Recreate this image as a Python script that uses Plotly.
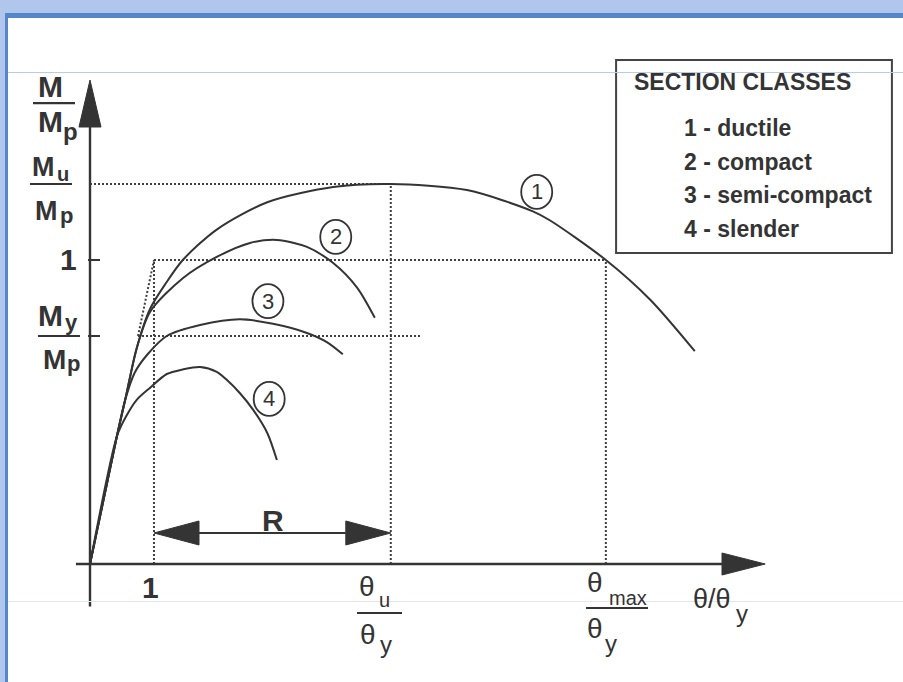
import plotly.graph_objects as go

# Moment-rotation curves for the four section classes (θ/θy, M/Mp)
THETA_1 = [0.0, 0.42, 0.55, 0.73, 0.94, 1.19, 1.45, 1.98, 2.77, 3.80, 4.70, 5.89, 6.92, 7.19, 8.06, 8.75, 9.45]
M_1 = [0.0, 0.42, 0.54, 0.71, 0.84, 0.925, 1.0, 1.10, 1.19, 1.24, 1.25, 1.23, 1.16, 1.13, 1.0, 0.87, 0.70]

THETA_2 = [0.0, 0.42, 0.55, 0.73, 0.94, 1.45, 1.98, 2.50, 2.92, 3.39, 3.80, 4.17, 4.45]
M_2 = [0.0, 0.42, 0.54, 0.71, 0.83, 0.94, 1.01, 1.056, 1.066, 1.043, 0.99, 0.91, 0.81]

THETA_3 = [0.0, 0.42, 0.55, 0.70, 0.90, 1.20, 1.72, 2.34, 2.86, 3.39, 3.70, 3.95]
M_3 = [0.0, 0.42, 0.54, 0.63, 0.69, 0.75, 0.786, 0.805, 0.79, 0.76, 0.73, 0.69]

THETA_4 = [0.0, 0.42, 0.55, 0.73, 0.94, 1.20, 1.45, 1.72, 1.98, 2.14, 2.34, 2.55, 2.77, 2.92]
M_4 = [0.0, 0.42, 0.48, 0.54, 0.58, 0.625, 0.64, 0.648, 0.632, 0.605, 0.5625, 0.507, 0.431, 0.342]

CURVES = [(THETA_1, M_1), (THETA_2, M_2), (THETA_3, M_3), (THETA_4, M_4)]

# Characteristic levels
THETA_U = 4.70      # rotation at the maximum moment
THETA_MAX = 8.06    # rotation where M drops back to Mp
M_U = 1.25          # maximum moment
M_Y = 0.75          # first-yield moment
M_P = 1.0           # plastic moment

# Class markers (circle centre on the chart)
CLASS_IDS = ["1", "2", "3", "4"]
CLASS_X = [6.98, 3.84, 2.78, 2.80]
CLASS_Y = [1.224, 1.076, 0.865, 0.543]

LEGEND_TITLE = "SECTION CLASSES"
LEGEND_ITEMS = ["1 - ductile", "2 - compact", "3 - semi-compact", "4 - slender"]

INK = "#343434"
GUIDE = "#404040"
FONT = "Liberation Sans, Arial, sans-serif"

W, H = 903, 682
X_RANGE = [-90 / 64, (W - 90) / 64]
Y_RANGE = [(564 - H) / 304, 564 / 304]
DX = 1 / 64     # one screen pixel along θ/θy
DY = 1 / 304    # one screen pixel along M/Mp

fig = go.Figure()


def seg(xs, ys, dash=None, width=2.0, color=INK):
    fig.add_trace(go.Scatter(
        x=xs, y=ys, mode="lines", hoverinfo="skip", showlegend=False,
        line=dict(color=color, width=width, dash=dash)))


def tri(xs, ys):
    fig.add_trace(go.Scatter(
        x=xs, y=ys, mode="lines", fill="toself", fillcolor=INK,
        hoverinfo="skip", showlegend=False, line=dict(color=INK, width=1)))


# dotted reference lines
DOT = "2px,2px"
GW = 2.0
seg([0, THETA_U], [M_U, M_U], DOT, GW, GUIDE)
seg([THETA_U, THETA_U], [0, M_U], DOT, GW, GUIDE)
seg([1, THETA_MAX], [M_P, M_P], DOT, GW, GUIDE)
seg([THETA_MAX, THETA_MAX], [0, M_P], DOT, GW, GUIDE)
seg([M_Y, 5.16], [M_Y, M_Y], DOT, GW, GUIDE)
seg([1, 1], [0, M_P], DOT, GW, GUIDE)
seg([M_Y, 1], [M_Y, M_P], DOT, GW, GUIDE)

# the four curves
for xs, ys in CURVES:
    fig.add_trace(go.Scatter(
        x=xs, y=ys, mode="lines", hoverinfo="skip", showlegend=False,
        line=dict(color=INK, width=2, shape="spline", smoothing=0.8)))

# axes with arrow heads
X_END, X_TIP = 9.875, 10.55
Y_END, Y_TIP = 1.4375, 1.592
seg([-0.22, X_END], [0, 0], width=2.4)
seg([0, 0], [-0.14, Y_END], width=2.4)
tri([X_END, X_TIP, X_END, X_END], [11 * DY, 0, -11 * DY, 11 * DY])
tri([-11 * DX, 0, 11 * DX, -11 * DX], [Y_END, Y_TIP, Y_END, Y_END])

# short ticks at Mp and My
for lvl in (M_P, M_Y):
    seg([-2 * DX, 10 * DX], [lvl, lvl], width=2)

# rotation capacity R
R_Y = 0.102
HEAD = 45 * DX
seg([1 + HEAD, THETA_U - HEAD], [R_Y, R_Y], width=2)
tri([1, 1 + HEAD, 1 + HEAD, 1], [R_Y, R_Y + 12 * DY, R_Y - 12 * DY, R_Y])
tri([THETA_U, THETA_U - HEAD, THETA_U - HEAD, THETA_U], [R_Y, R_Y + 12 * DY, R_Y - 12 * DY, R_Y])

shapes = []
annotations = []


def txt(x, y, text, size, bold=False, xanchor="center"):
    annotations.append(dict(
        x=x, y=y, xref="x", yref="y", text=f"<b>{text}</b>" if bold else text,
        showarrow=False, xanchor=xanchor, yanchor="middle",
        font=dict(size=size, color=INK, family=FONT)))


def bar(x0, x1, y, width=2.2):
    shapes.append(dict(type="line", xref="x", yref="y", x0=x0, x1=x1, y0=y, y1=y,
                       line=dict(color=INK, width=width)))


# vertical axis labels
txt(-0.617, 1.572, "M", 30, True)
bar(-0.891, -0.234, 1.516)
txt(-0.617, 1.456, "M", 30, True)
txt(-0.305, 1.424, "p", 24, True)

txt(-0.719, 1.306, "M", 27, True)
txt(-0.422, 1.283, "u", 20, True)
bar(-0.9375, -0.281, M_U)
txt(-0.680, 1.161, "M", 27, True)
txt(-0.367, 1.148, "p", 22, True)

txt(-0.336, 1.003, "1", 30, True)

txt(-0.617, 0.816, "M", 30, True)
txt(-0.289, 0.796, "y", 22, True)
bar(-0.8125, -0.156, M_Y)
txt(-0.547, 0.674, "M", 28, True)
txt(-0.258, 0.658, "p", 22, True)

# horizontal axis labels
txt(0.9375, -0.0773, "1", 30, True)
txt(2.852, 0.1447, "R", 30, True)

txt(4.328, -0.0724, "θ", 28)
txt(4.60, -0.1184, "u", 20)
bar(4.172, 4.875, -0.1612)
txt(4.336, -0.2303, "θ", 28)
txt(4.62, -0.2664, "y", 24)

txt(7.891, -0.0609, "θ", 28)
txt(8.406, -0.1118, "max", 20)
bar(7.75, 8.719, -0.1447)
txt(7.891, -0.2122, "θ", 28)
txt(8.14, -0.2599, "y", 24)

txt(9.711, -0.1151, "θ/θ", 27)
txt(10.18, -0.1612, "y", 24)

# circled class numbers
RX, RY = 15.5 * DX, 17 * DY
for cid, cx, cy in zip(CLASS_IDS, CLASS_X, CLASS_Y):
    shapes.append(dict(type="circle", xref="x", yref="y",
                       x0=cx - RX, x1=cx + RX, y0=cy - RY, y1=cy + RY,
                       line=dict(color=INK, width=1.8)))
    txt(cx, cy, cid, 22)

# legend box
shapes.append(dict(type="rect", xref="x", yref="y", x0=8.22, x1=12.53, y0=1.023, y1=1.658,
                   line=dict(color="#444444", width=2)))
txt(10.19, 1.587, LEGEND_TITLE, 23, True)
for i, item in enumerate(LEGEND_ITEMS):
    txt(9.25, 1.434 - i * 0.1105, item, 23, True, xanchor="left")

# page frame
FRAME_LIGHT = "#b0c6ec"
FRAME_DARK = "#5586c8"
TOP_L, TOP_D, SIDE_L, SIDE_D = 13, 18, 5, 8
shapes += [
    dict(type="rect", xref="paper", yref="paper", x0=0, x1=1, y0=1 - TOP_L / H, y1=1,
         fillcolor=FRAME_LIGHT, line_width=0, layer="above"),
    dict(type="rect", xref="paper", yref="paper", x0=0, x1=1, y0=1 - TOP_D / H, y1=1 - TOP_L / H,
         fillcolor=FRAME_DARK, line_width=0, layer="above"),
    dict(type="rect", xref="paper", yref="paper", x0=0, x1=SIDE_L / W, y0=0, y1=1,
         fillcolor=FRAME_LIGHT, line_width=0, layer="above"),
    dict(type="rect", xref="paper", yref="paper", x0=SIDE_L / W, x1=SIDE_D / W, y0=0, y1=1 - TOP_L / H,
         fillcolor=FRAME_DARK, line_width=0, layer="above"),
    dict(type="line", xref="paper", yref="paper", x0=SIDE_D / W, x1=1, y0=1 - 72.5 / H, y1=1 - 72.5 / H,
         line=dict(color="#b9cbed", width=1), layer="above"),
    dict(type="line", xref="paper", yref="paper", x0=SIDE_D / W, x1=1, y0=1 - 601.5 / H, y1=1 - 601.5 / H,
         line=dict(color="#dfe7f6", width=1), layer="above"),
]

fig.update_layout(
    width=W, height=H, margin=dict(l=0, r=0, t=0, b=0),
    paper_bgcolor="white", plot_bgcolor="white",
    xaxis=dict(range=X_RANGE, visible=False, fixedrange=True),
    yaxis=dict(range=Y_RANGE, visible=False, fixedrange=True),
    shapes=shapes, annotations=annotations, showlegend=False,
)

fig.write_html("out.html", config={"displayModeBar": False})
